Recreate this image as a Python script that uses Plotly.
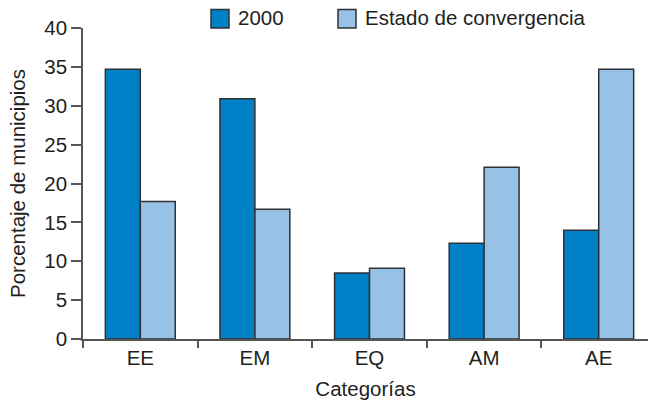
import plotly.graph_objects as go

categories = ["EE", "EM", "EQ", "AM", "AE"]
series_2000 = [34.7, 30.9, 8.5, 12.3, 14.0]
series_conv = [17.7, 16.7, 9.1, 22.1, 34.7]
y_ticks = [0, 5, 10, 15, 20, 25, 30, 35, 40]
series_names = ["2000", "Estado de convergencia"]
series_colors = ["#0080c6", "#97c1e5"]

TXT = "#231f20"
AX = "#555555"
OUTLINE = "#2e3236"
FONT = "Liberation Sans, Arial, sans-serif"
FS = 20.5

# plot area in figure pixels
L, T, B = 83, 28, 63
PW, PH = 648 - L, 402 - T - B


def px_x(fx):
    return (fx - L) / PW


def px_y(fy):
    return (402 - B - fy) / PH


fig = go.Figure()
for name, vals, col in zip(series_names, [series_2000, series_conv], series_colors):
    fig.add_trace(go.Bar(x=categories, y=vals, name=name, showlegend=False,
                         marker=dict(color=col, line=dict(color=OUTLINE, width=1.5))))

# legend drawn as keys + real text
legend_x = [211, 338]
shapes, annotations = [], []
for name, col, lx in zip(series_names, series_colors, legend_x):
    shapes.append(dict(type="rect", xref="paper", yref="paper",
                       x0=px_x(lx), x1=px_x(lx + 18), y0=px_y(28), y1=px_y(9.5),
                       fillcolor=col, line=dict(color=OUTLINE, width=1.5)))
    annotations.append(dict(text=name, xref="paper", yref="paper",
                            x=px_x(lx + 25), y=px_y(17.5), xanchor="left", yanchor="middle",
                            showarrow=False, font=dict(size=FS, color=TXT)))

fig.update_layout(
    width=648, height=402,
    margin=dict(l=L, r=0, t=T, b=B, autoexpand=False),
    paper_bgcolor="white", plot_bgcolor="white",
    font=dict(family=FONT, size=FS, color=TXT),
    barmode="group", bargap=0.39, bargroupgap=0,
    showlegend=False,
    shapes=shapes, annotations=annotations,
    xaxis=dict(range=[-0.5, 4.43], showline=True, linecolor=AX, linewidth=1.5,
               ticks="outside", tickson="boundaries", ticklen=7, tickcolor=AX, tickwidth=1.5,
               showgrid=False, zeroline=False,
               title=dict(text="Categorías", standoff=13, font=dict(size=FS, color=TXT)),
               tickfont=dict(size=FS, color=TXT)),
    yaxis=dict(range=[0, 40], tickvals=y_ticks, showline=True, linecolor=AX, linewidth=1.5,
               ticks="outside", ticklen=10, tickcolor=AX, tickwidth=1.5,
               showgrid=False, zeroline=False,
               title=dict(text="Porcentaje de municipios", standoff=13, font=dict(size=FS, color=TXT)),
               tickfont=dict(size=FS, color=TXT)),
)

fig.write_html("out.html", config={"displayModeBar": False},
               post_script="document.body.style.margin='0px';")
